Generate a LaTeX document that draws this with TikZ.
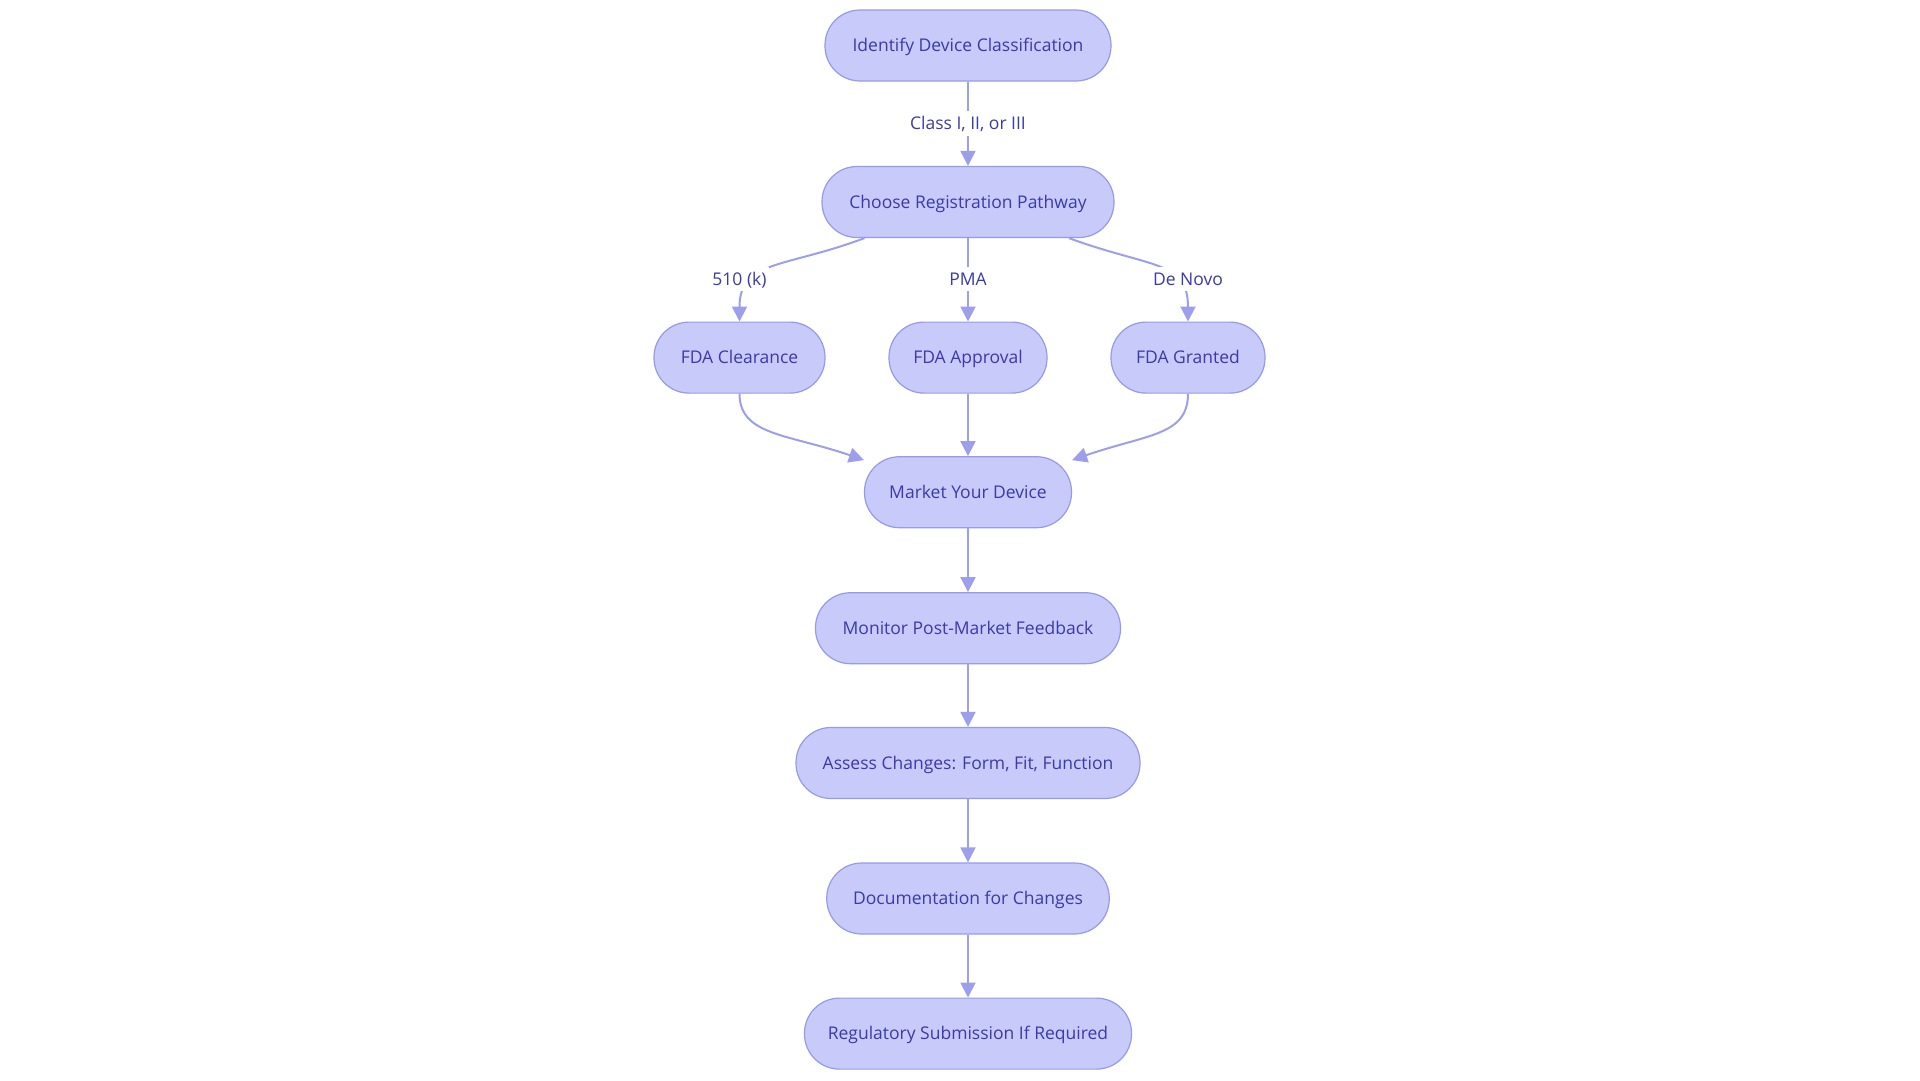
\documentclass[tikz,border=0pt]{standalone}
\usepackage{fontspec}
\setmainfont{Open Sans}
\usetikzlibrary{arrows.meta}
\definecolor{nodefill}{RGB}{200,202,250}
\definecolor{nodestroke}{RGB}{150,154,232}
\definecolor{nodetext}{RGB}{58,58,172}
\definecolor{edgecolor}{RGB}{156,160,236}
\begin{document}
\begin{tikzpicture}[x=1pt,y=-1pt,
  box/.style={draw=nodestroke, line width=1.2pt, fill=nodefill, rounded corners=35pt,
    minimum height=71pt, inner sep=0pt, text height=16.5pt, text depth=4pt,
    text=nodetext, font=\fontsize{17.5}{21}\selectfont},
  lbl/.style={fill=white, inner sep=2pt, text height=16.5pt, text depth=4pt,
    text=nodetext, font=\fontsize{17.5}{21}\selectfont},
  arr/.style={draw=edgecolor, line width=2pt, -{Triangle[length=15pt,width=15pt]}}]
\useasboundingbox (0,0) rectangle (1920,1080);

\node[box, minimum width=286pt] (n1) at (968,45.5) {Identify Device Classification};
\node[box, minimum width=292pt] (n2) at (968,202) {Choose Registration Pathway};
\node[box, minimum width=171pt] (n3) at (739.5,357.6) {FDA Clearance};
\node[box, minimum width=158pt] (n4) at (968,357.6) {FDA Approval};
\node[box, minimum width=154pt] (n5) at (1188,357.6) {FDA Granted};
\node[box, minimum width=207pt] (n6) at (968,492.2) {Market Your Device};
\node[box, minimum width=305pt] (n7) at (968,628.2) {Monitor Post-Market Feedback};
\node[box, minimum width=344pt] (n8) at (968,763) {Assess Changes: Form, Fit, Function};
\node[box, minimum width=282.5pt] (n9) at (968,898.5) {Documentation for Changes};
\node[box, minimum width=327pt] (n10) at (968,1033.6) {Regulatory Submission If Required};

\draw[arr] (n1) -- (n2);
\draw[arr] ([xshift=-103.5pt]n2.south) .. controls (785,268) and (739.5,260) .. (n3.north);
\draw[arr] (n2) -- (n4);
\draw[arr] ([xshift=101pt]n2.south) .. controls (1150,268) and (1188,260) .. (n5.north);
\draw[arr] (n3.south) .. controls +(0,42) and +(-75,-26) .. ([yshift=-4pt]n6.north west);
\draw[arr] (n4) -- (n6);
\draw[arr] (n5.south) .. controls +(0,42) and +(75,-26) .. ([yshift=-4pt]n6.north east);
\draw[arr] (n6) -- (n7);
\draw[arr] (n7) -- (n8);
\draw[arr] (n8) -- (n9);
\draw[arr] (n9) -- (n10);

\node[lbl] (l1) at (968,123.7) {Class I, II, or III};
\node[lbl] (l2) at (739.5,279) {510 (k)};
\node[lbl] (l3) at (968,279) {PMA};
\node[lbl] (l4) at (1188,279) {De Novo};
\end{tikzpicture}
\end{document}
